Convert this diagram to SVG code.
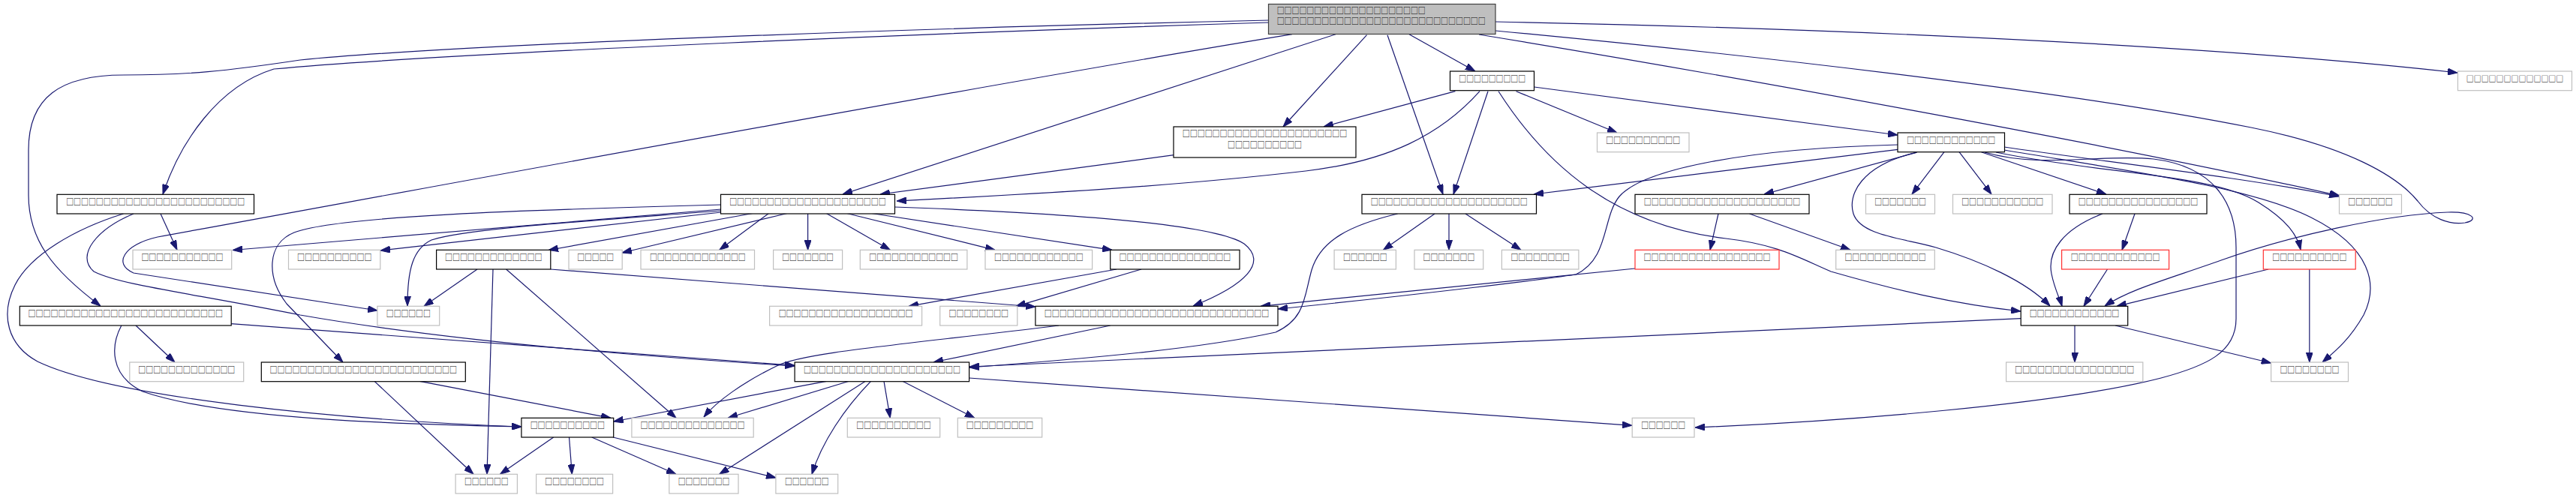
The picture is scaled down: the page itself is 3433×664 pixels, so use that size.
<svg xmlns="http://www.w3.org/2000/svg" width="3433" height="664" viewBox="0 0 3433 664">
<style>
.node rect{fill:#fff;stroke:#000;stroke-width:1.2}
.node.ext rect{stroke:#bfbfbf}
.node.trunc rect{stroke:#ff3030}
.node.main rect{fill:#bfbfbf;stroke:#404040}
.node text{font-family:"Noto Sans CJK SC","DejaVu Sans",sans-serif;font-size:12px;fill:#000;text-anchor:middle}
.node.main text{text-anchor:start}
#nRT text{font-size:10px}
#edges path{fill:none;stroke:#191970;stroke-width:1.2;marker-end:url(#ah)}
</style>
<defs>
<marker id="ah" markerUnits="userSpaceOnUse" markerWidth="13" markerHeight="9" refX="13" refY="4.5" orient="auto">
<path d="M0,0 L13,4.5 L0,9 z" fill="#191970" stroke="#191970" stroke-width="1"/>
</marker>
</defs>
<rect width="3433" height="664" fill="#fff"/>
<g id="edges">
<path d="M1878,45.7 L1966,95"/>
<path d="M1993,29 C2350,36 2900,55 3275,97"/>
<path d="M1971,46 C2300,100 2800,190 3118,261"/>
<path d="M1993,41 C2300,70 2750,120 3000,170 C3130,196 3195,235 3222,268 C3240,292 3265,300 3285,297 C3305,293 3295,282 3262,283 C3180,286 3050,315 2960,347 C2890,372 2840,385 2805,408"/>
<path d="M1821.5,46.7 L1710,169"/>
<path d="M1849,46.7 L1923,259"/>
<path d="M1780,45.7 L1123,259"/>
<path d="M1722,45.7 C1300,115 600,245 210,316 C165,326 150,352 178,364 L503,414"/>
<path d="M1691,30 C1300,42 600,70 365,92 C290,115 240,190 217,259"/>
<path d="M1691,27 C1200,38 600,60 400,80 C300,95 250,100 165,100 C80,100 38,130 38,200 L38,260 C38,320 70,360 134,408"/>
<path d="M1939.4,121.7 L1764,169"/>
<path d="M1972,121.7 C1920,180 1850,215 1740,228 C1550,250 1350,260 1195,268"/>
<path d="M1983,121.7 L1937,259"/>
<path d="M1997,121.7 C2060,220 2150,300 2300,318 C2370,326 2400,345 2440,362 C2520,385 2600,405 2693,415"/>
<path d="M2020.5,121.7 L2155,177"/>
<path d="M2044.7,116 L2529,180"/>
<path d="M1564.4,206.7 L1173,259"/>
<path d="M2529,193 C2330,198 2190,225 2158,262 C2135,290 2145,345 2100,366 C2060,372 1900,392 1703,412"/>
<path d="M2529,199.3 L2044,259"/>
<path d="M2553.7,203.3 L2351,259"/>
<path d="M2555,203 C2480,220 2462,260 2470,285 C2480,315 2540,318 2580,330 C2640,348 2700,375 2732,408"/>
<path d="M2591,202.7 L2548,259"/>
<path d="M2611,202.7 L2654,259"/>
<path d="M2640.4,202.7 L2807,259"/>
<path d="M2671,196 C2800,215 3000,238 3117,262"/>
<path d="M2645,203 C2720,225 2800,205 2870,212 C2950,222 2980,270 2980,330 L2980,425 C2980,470 2940,488 2880,504 C2740,540 2450,562 2259,570"/>
<path d="M2660,203 C2800,232 2950,232 3010,270 C3050,295 3062,315 3066,333"/>
<path d="M2671,200 C2850,230 3000,250 3080,290 C3160,330 3170,380 3150,420 C3130,455 3110,470 3095,483"/>
<path d="M2290,285 L2279,333.3"/>
<path d="M2331.5,285 L2466,333.3"/>
<path d="M1862.6,285 C1800,300 1760,320 1748,360 C1738,395 1740,425 1700,443 C1600,465 1450,478 1292,490"/>
<path d="M1912,285 L1843.4,333.3"/>
<path d="M1931,285 L1931,333.3"/>
<path d="M1953,285 L2027,333.3"/>
<path d="M961,273 C700,280 450,288 392,310 C355,325 355,370 382,405 L457,483"/>
<path d="M961,279 L310,333.5"/>
<path d="M961,281 C780,295 620,305 575,320 C550,332 543,360 543,408"/>
<path d="M961,283 L507,334"/>
<path d="M1003,284.5 L731,333.5"/>
<path d="M1049,284.5 L829,337"/>
<path d="M1024.5,284.5 L958.7,333.3"/>
<path d="M1076.6,284.5 L1076.6,333.3"/>
<path d="M1101.3,284.5 L1186.3,333.3"/>
<path d="M1128.7,284.5 L1326,333.3"/>
<path d="M1161.7,284.5 L1482,333.3"/>
<path d="M1192,276 C1450,285 1620,300 1658,325 C1690,350 1660,380 1590,408"/>
<path d="M636,359 L565,408.3"/>
<path d="M657,359 L649,632.3"/>
<path d="M674.6,359 L901,557.3"/>
<path d="M733.8,359 L1380,409"/>
<path d="M1488,359 L1211,408.3"/>
<path d="M1521,359 L1354,408.3"/>
<path d="M2802,285 C2750,305 2728,335 2734,365 C2738,385 2745,398 2748,408.3"/>
<path d="M2845,285 L2828,333.3"/>
<path d="M2808.5,359 L2777,408.3"/>
<path d="M3023,359 L2821,408.3"/>
<path d="M3077.8,359 L3077.8,483"/>
<path d="M2765,434 L2765,483"/>
<path d="M2819,434 L3026.6,484"/>
<path d="M2693,424.7 L1292,489"/>
<path d="M2179,358 L1680,408.3"/>
<path d="M164.5,285 C100,305 40,340 20,380 C0,420 10,460 50,482 C150,530 450,560 694.9,569"/>
<path d="M178,285 C130,305 100,340 125,362 C160,380 250,390 400,420 C600,455 850,475 1059,488"/>
<path d="M214,285 L236,333.3"/>
<path d="M308,431.7 L1059,487.3"/>
<path d="M181,434 L233,483"/>
<path d="M161.8,434 C148,460 145,500 190,522 C300,560 550,566 694.9,569"/>
<path d="M499,508.3 L631,632.3"/>
<path d="M559.4,508.3 L814,557.3"/>
<path d="M1101.3,508.3 L817.7,562"/>
<path d="M1131.5,508.3 L970,557.3"/>
<path d="M1153.4,508.3 L958.7,632.3"/>
<path d="M1160.6,508.3 C1125,545 1095,590 1082,632.3"/>
<path d="M1178,508.3 L1186.3,557.3"/>
<path d="M1202.8,508.3 L1298.8,557.3"/>
<path d="M1291.6,504 L2175,567.3"/>
<path d="M1411,434 C1200,460 1070,470 1035,488 C990,510 955,535 938,556"/>
<path d="M1479.7,434 L1244,483"/>
<path d="M737.7,583 L666.4,632.3"/>
<path d="M758.5,583 L762.3,632.3"/>
<path d="M788.7,583 L901,632.3"/>
<path d="M817,583 L1034,637"/>
</g>
<g id="n0" class="node main"><rect x="1690.5" y="5.5" width="302.5" height="40"/><text x="1701.7" y="19" textLength="198" lengthAdjust="spacingAndGlyphs">□□□□□□□□□□□□□□□□□□□□</text><text x="1701.7" y="33.4" textLength="278" lengthAdjust="spacingAndGlyphs">□□□□□□□□□□□□□□□□□□□□□□□□□□□□</text></g>
<g id="nB" class="node"><rect x="1932.5" y="95" width="112" height="25.7"/><text x="1988.7" y="109.5" textLength="88.7" lengthAdjust="spacingAndGlyphs">□□□□□□□□□</text></g>
<g id="nRT" class="node ext"><rect x="3275.5" y="95" width="152" height="25.7"/><text x="3351.5" y="109" textLength="129.6" lengthAdjust="spacingAndGlyphs">□□□□□□□□□□□□□</text></g>
<g id="nC" class="node"><rect x="1564" y="169" width="243" height="41"/><text x="1685.5" y="183.2" textLength="219.6" lengthAdjust="spacingAndGlyphs">□□□□□□□□□□□□□□□□□□□□□□</text><text x="1685.5" y="198" textLength="98.8" lengthAdjust="spacingAndGlyphs">□□□□□□□□□□</text></g>
<g id="nD" class="node ext"><rect x="2128.5" y="177" width="122.5" height="25.7"/><text x="2189.7" y="191.5" textLength="98.8" lengthAdjust="spacingAndGlyphs">□□□□□□□□□□</text></g>
<g id="nE" class="node"><rect x="2529" y="177" width="142.5" height="25.7"/><text x="2600.2" y="191.5" textLength="118" lengthAdjust="spacingAndGlyphs">□□□□□□□□□□□□</text></g>
<g id="nA" class="node"><rect x="76" y="259.3" width="262.5" height="25.7"/><text x="207.2" y="273.8" textLength="238" lengthAdjust="spacingAndGlyphs">□□□□□□□□□□□□□□□□□□□□□□□□</text></g>
<g id="nF" class="node"><rect x="960.5" y="259.3" width="232" height="25.7"/><text x="1076.4" y="273.8" textLength="208.4" lengthAdjust="spacingAndGlyphs">□□□□□□□□□□□□□□□□□□□□□</text></g>
<g id="nG" class="node"><rect x="1815" y="259.3" width="232.5" height="25.7"/><text x="1931.2" y="273.8" textLength="209" lengthAdjust="spacingAndGlyphs">□□□□□□□□□□□□□□□□□□□□□</text></g>
<g id="nH" class="node"><rect x="2179" y="259.3" width="232" height="25.7"/><text x="2295" y="273.8" textLength="208.4" lengthAdjust="spacingAndGlyphs">□□□□□□□□□□□□□□□□□□□□□</text></g>
<g id="nJ" class="node ext"><rect x="2486.5" y="259.3" width="92" height="25.7"/><text x="2532.5" y="273.8" textLength="68.6" lengthAdjust="spacingAndGlyphs">□□□□□□□</text></g>
<g id="nK" class="node ext"><rect x="2602.5" y="259.3" width="132.5" height="25.7"/><text x="2668.7" y="273.8" textLength="109" lengthAdjust="spacingAndGlyphs">□□□□□□□□□□□</text></g>
<g id="nI" class="node"><rect x="2758" y="259.3" width="183" height="25.7"/><text x="2849.5" y="273.8" textLength="159.4" lengthAdjust="spacingAndGlyphs">□□□□□□□□□□□□□□□□</text></g>
<g id="nL" class="node ext"><rect x="3117.5" y="259.3" width="83" height="25.7"/><text x="3159" y="273.8" textLength="59.3" lengthAdjust="spacingAndGlyphs">□□□□□□</text></g>
<g id="nM" class="node ext"><rect x="177" y="333.3" width="131.7" height="25.7"/><text x="242.9" y="347.8" textLength="109" lengthAdjust="spacingAndGlyphs">□□□□□□□□□□□</text></g>
<g id="nN" class="node ext"><rect x="384.5" y="333.3" width="122.3" height="25.7"/><text x="445.7" y="347.8" textLength="99.3" lengthAdjust="spacingAndGlyphs">□□□□□□□□□□</text></g>
<g id="nO" class="node"><rect x="581.6" y="333.3" width="152.2" height="25.7"/><text x="657.7" y="347.8" textLength="129.4" lengthAdjust="spacingAndGlyphs">□□□□□□□□□□□□□</text></g>
<g id="nP" class="node ext"><rect x="758" y="333.3" width="71.2" height="25.7"/><text x="793.6" y="347.8" textLength="48.8" lengthAdjust="spacingAndGlyphs">□□□□□</text></g>
<g id="nQ" class="node ext"><rect x="854" y="333.3" width="151.5" height="25.7"/><text x="929.8" y="347.8" textLength="127.7" lengthAdjust="spacingAndGlyphs">□□□□□□□□□□□□□</text></g>
<g id="nR" class="node ext"><rect x="1030.6" y="333.3" width="92" height="25.7"/><text x="1076.6" y="347.8" textLength="68.6" lengthAdjust="spacingAndGlyphs">□□□□□□□</text></g>
<g id="nS" class="node ext"><rect x="1146.3" y="333.3" width="142.6" height="25.7"/><text x="1217.6" y="347.8" textLength="118.5" lengthAdjust="spacingAndGlyphs">□□□□□□□□□□□□</text></g>
<g id="nT" class="node ext"><rect x="1313" y="333.3" width="142.6" height="25.7"/><text x="1384.3" y="347.8" textLength="118.5" lengthAdjust="spacingAndGlyphs">□□□□□□□□□□□□</text></g>
<g id="nU" class="node"><rect x="1479.7" y="333.3" width="172.3" height="25.7"/><text x="1565.9" y="347.8" textLength="148.6" lengthAdjust="spacingAndGlyphs">□□□□□□□□□□□□□□□</text></g>
<g id="nV" class="node ext"><rect x="1778.1" y="333.3" width="82.3" height="25.7"/><text x="1819.3" y="347.8" textLength="58.6" lengthAdjust="spacingAndGlyphs">□□□□□□</text></g>
<g id="nW" class="node ext"><rect x="1885" y="333.3" width="91.7" height="25.7"/><text x="1930.9" y="347.8" textLength="68.6" lengthAdjust="spacingAndGlyphs">□□□□□□□</text></g>
<g id="nX" class="node ext"><rect x="2001.4" y="333.3" width="102.5" height="25.7"/><text x="2052.7" y="347.8" textLength="78.4" lengthAdjust="spacingAndGlyphs">□□□□□□□□</text></g>
<g id="nY" class="node trunc"><rect x="2179" y="333.3" width="192" height="25.7"/><text x="2275" y="347.8" textLength="168.9" lengthAdjust="spacingAndGlyphs">□□□□□□□□□□□□□□□□□</text></g>
<g id="nZ" class="node ext"><rect x="2446.7" y="333.3" width="131.6" height="25.7"/><text x="2512.5" y="347.8" textLength="108" lengthAdjust="spacingAndGlyphs">□□□□□□□□□□□</text></g>
<g id="nAA" class="node trunc"><rect x="2747.6" y="333.3" width="143" height="25.7"/><text x="2819.1" y="347.8" textLength="118.6" lengthAdjust="spacingAndGlyphs">□□□□□□□□□□□□</text></g>
<g id="nAB" class="node trunc"><rect x="3016.3" y="333.3" width="122.9" height="25.7"/><text x="3077.8" y="347.8" textLength="99" lengthAdjust="spacingAndGlyphs">□□□□□□□□□□</text></g>
<g id="nAH" class="node"><rect x="26.3" y="408.3" width="281.9" height="25.7"/><text x="167.3" y="422.8" textLength="259.5" lengthAdjust="spacingAndGlyphs">□□□□□□□□□□□□□□□□□□□□□□□□□□</text></g>
<g id="nAC" class="node ext"><rect x="502.9" y="408.3" width="82.8" height="25.7"/><text x="544.3" y="422.8" textLength="59" lengthAdjust="spacingAndGlyphs">□□□□□□</text></g>
<g id="nAE" class="node ext"><rect x="1025.6" y="408.3" width="203" height="25.7"/><text x="1127.1" y="422.8" textLength="178.8" lengthAdjust="spacingAndGlyphs">□□□□□□□□□□□□□□□□□□</text></g>
<g id="nAF" class="node ext"><rect x="1252.7" y="408.3" width="103.1" height="25.7"/><text x="1304.3" y="422.8" textLength="79.5" lengthAdjust="spacingAndGlyphs">□□□□□□□□</text></g>
<g id="nAD" class="node"><rect x="1379.9" y="408.3" width="323.1" height="25.7"/><text x="1541.5" y="422.8" textLength="299.5" lengthAdjust="spacingAndGlyphs">□□□□□□□□□□□□□□□□□□□□□□□□□□□□□□</text></g>
<g id="nAG" class="node"><rect x="2693.2" y="408.3" width="142.5" height="25.7"/><text x="2764.5" y="422.8" textLength="119.7" lengthAdjust="spacingAndGlyphs">□□□□□□□□□□□□</text></g>
<g id="nAI" class="node ext"><rect x="172.8" y="483" width="151.9" height="25.7"/><text x="248.8" y="497.5" textLength="128.9" lengthAdjust="spacingAndGlyphs">□□□□□□□□□□□□□</text></g>
<g id="nAJ" class="node"><rect x="348.3" y="483" width="272" height="25.7"/><text x="484.3" y="497.5" textLength="249.6" lengthAdjust="spacingAndGlyphs">□□□□□□□□□□□□□□□□□□□□□□□□□</text></g>
<g id="nAK" class="node"><rect x="1059.1" y="483" width="232.5" height="25.7"/><text x="1175.4" y="497.5" textLength="209" lengthAdjust="spacingAndGlyphs">□□□□□□□□□□□□□□□□□□□□□</text></g>
<g id="nAL" class="node ext"><rect x="2673.6" y="483" width="182.2" height="25.7"/><text x="2764.7" y="497.5" textLength="158.9" lengthAdjust="spacingAndGlyphs">□□□□□□□□□□□□□□□□</text></g>
<g id="nAM" class="node ext"><rect x="3026.6" y="483" width="102.9" height="25.7"/><text x="3078" y="497.5" textLength="79" lengthAdjust="spacingAndGlyphs">□□□□□□□□</text></g>
<g id="nAN" class="node"><rect x="694.9" y="557.3" width="122.8" height="25.7"/><text x="756.3" y="571.8" textLength="99.3" lengthAdjust="spacingAndGlyphs">□□□□□□□□□□</text></g>
<g id="nAO" class="node ext"><rect x="841.9" y="557.3" width="162.3" height="25.7"/><text x="923" y="571.8" textLength="138.8" lengthAdjust="spacingAndGlyphs">□□□□□□□□□□□□□□</text></g>
<g id="nAP" class="node ext"><rect x="1129.3" y="557.3" width="123.4" height="25.7"/><text x="1191" y="571.8" textLength="99.3" lengthAdjust="spacingAndGlyphs">□□□□□□□□□□</text></g>
<g id="nAQ" class="node ext"><rect x="1276.3" y="557.3" width="112.4" height="25.7"/><text x="1332.5" y="571.8" textLength="89.4" lengthAdjust="spacingAndGlyphs">□□□□□□□□□</text></g>
<g id="nAR" class="node ext"><rect x="2175.2" y="557.3" width="82.8" height="25.7"/><text x="2216.6" y="571.8" textLength="58.7" lengthAdjust="spacingAndGlyphs">□□□□□□</text></g>
<g id="nAS" class="node ext"><rect x="607.1" y="632.3" width="82.3" height="25.7"/><text x="648.3" y="646.8" textLength="58.6" lengthAdjust="spacingAndGlyphs">□□□□□□</text></g>
<g id="nAT" class="node ext"><rect x="714.6" y="632.3" width="102" height="25.7"/><text x="765.6" y="646.8" textLength="78.5" lengthAdjust="spacingAndGlyphs">□□□□□□□□</text></g>
<g id="nAU" class="node ext"><rect x="891.8" y="632.3" width="92.2" height="25.7"/><text x="938" y="646.8" textLength="68.6" lengthAdjust="spacingAndGlyphs">□□□□□□□</text></g>
<g id="nAV" class="node ext"><rect x="1033.9" y="632.3" width="82.8" height="25.7"/><text x="1075.3" y="646.8" textLength="58.6" lengthAdjust="spacingAndGlyphs">□□□□□□</text></g>
</svg>
